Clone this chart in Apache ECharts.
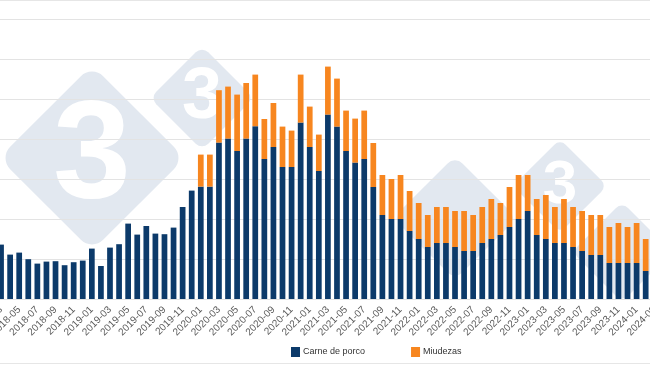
<!DOCTYPE html>
<html>
<head>
<meta charset="utf-8">
<script src="https://cdn.jsdelivr.net/npm/echarts@6/dist/echarts.min.js"></script>
<style>
html,body{margin:0;padding:0;background:#fff;}
#c{width:650px;height:365px;}
</style>
</head>
<body>
<div id="c"></div>
<script>
// Monthly categories (2018-03 .. 2024-03)
var months = [
'2018-03','2018-04','2018-05','2018-06','2018-07','2018-08','2018-09','2018-10','2018-11','2018-12',
'2019-01','2019-02','2019-03','2019-04','2019-05','2019-06','2019-07','2019-08','2019-09','2019-10','2019-11','2019-12',
'2020-01','2020-02','2020-03','2020-04','2020-05','2020-06','2020-07','2020-08','2020-09','2020-10','2020-11','2020-12',
'2021-01','2021-02','2021-03','2021-04','2021-05','2021-06','2021-07','2021-08','2021-09','2021-10','2021-11','2021-12',
'2022-01','2022-02','2022-03','2022-04','2022-05','2022-06','2022-07','2022-08','2022-09','2022-10','2022-11','2022-12',
'2023-01','2023-02','2023-03','2023-04','2023-05','2023-06','2023-07','2023-08','2023-09','2023-10','2023-11','2023-12',
'2024-01','2024-02','2024-03'
];

// Carne de porco (bottom of stack)
var carneDePorco = [
27.2,22.2,23.2,19.9,17.7,18.7,18.9,16.9,18.4,19.2,
25.2,16.5,25.7,27.4,37.7,32.2,36.5,32.7,32.4,35.7,46.0,54.2,
56.2,56.2,78.2,80.2,74.0,80.2,86.4,70.0,76.0,66.0,66.0,88.2,
76.0,64.0,92.2,86.2,74.0,68.2,70.0,56.0,42.0,40.0,40.0,34.0,
30.0,26.0,28.0,28.0,26.0,24.0,24.0,28.0,30.0,32.0,36.0,40.0,
44.0,32.0,30.0,28.0,28.0,26.0,24.0,22.0,22.0,18.0,18.0,18.0,
18.0,14.0,14.0
];

// Miudezas (stacked on top)
var miudezas = [
0,0,0,0,0,0,0,0,0,0,
0,0,0,0,0,0,0,0,0,0,0,0,
16.0,16.0,26.2,26.0,28.2,27.8,25.8,20.0,22.0,20.2,18.2,24.0,
20.2,18.2,24.0,24.0,20.2,22.0,24.2,22.0,20.0,20.0,22.0,20.0,
18.0,16.0,18.0,18.0,18.0,20.0,18.0,18.0,20.0,16.0,20.0,22.0,
18.0,18.0,22.0,18.0,22.0,20.0,20.0,20.0,20.0,18.0,20.0,18.0,
20.0,16.0,16.0
];

var seriesNames = ['Carne de porco', 'Miudezas'];
var colors = ['#0c3a6a', '#f7861f'];

function diamond(cx, cy, half, label, fontSize) {
  var side = half * Math.SQRT2;
  var els = [{
    type: 'rect',
    x: cx, y: cy,
    rotation: Math.PI / 4,
    shape: { x: -side / 2, y: -side / 2, width: side, height: side, r: side * 0.12 },
    style: { fill: '#e2e8f0' },
    z: -10, silent: true
  }];
  if (label) {
    els.push({
      type: 'text',
      x: cx, y: cy,
      style: { text: '3', fill: '#ffffff', font: 'bold ' + fontSize + 'px "Liberation Sans", Arial, sans-serif',
               align: 'center', verticalAlign: 'middle' },
      z: -9, silent: true
    });
  }
  return els;
}

var graphics = [].concat(
  diamond(92, 158, 93, true, 140),
  diamond(202, 98, 52, true, 72),
  diamond(455, 218, 62, false, 0),
  diamond(560, 186, 47, true, 62),
  diamond(622, 252, 50, false, 0),
  [
    { type: 'line', shape: { x1: 0, y1: 0.5, x2: 650, y2: 0.5 }, style: { stroke: '#e6e6e6', lineWidth: 1 }, z: -5, silent: true },
    { type: 'line', shape: { x1: 0, y1: 363.5, x2: 650, y2: 363.5 }, style: { stroke: '#e6e6e6', lineWidth: 1 }, z: -5, silent: true }
  ]
);

var chart = echarts.init(document.getElementById('c'), null, { renderer: 'canvas' });
chart.setOption({
  animation: false,
  backgroundColor: '#ffffff',
  graphic: graphics,
  legend: {
    left: 291, top: 347, padding: 0,
    itemWidth: 9, itemHeight: 10, itemGap: 46,
    icon: 'rect',
    textStyle: { fontSize: 9, color: '#333', fontFamily: '"Liberation Sans", Arial, sans-serif', padding: [0, 0, 0, -2] },
    data: seriesNames
  },
  grid: {
    left: -3.5, right: -9.3, top: 19, bottom: 66,
    containLabel: false,
    outerBoundsMode: 'none'
  },
  xAxis: {
    type: 'category',
    data: months,
    axisLine: { show: true, lineStyle: { color: '#e3e3e3' } },
    axisTick: { show: false },
    axisLabel: {
      interval: 1, rotate: 45, fontSize: 10, color: '#5a5a5a', margin: 9,
      fontFamily: '"Liberation Sans", Arial, sans-serif'
    }
  },
  yAxis: {
    type: 'value', min: 0, max: 140, interval: 20,
    axisLabel: { show: false },
    axisLine: { show: false },
    axisTick: { show: false },
    splitLine: { lineStyle: { color: '#e3e3e3' } }
  },
  series: [
    { name: seriesNames[0], type: 'bar', stack: 'total', data: carneDePorco, barCategoryGap: '37%', itemStyle: { color: colors[0] } },
    { name: seriesNames[1], type: 'bar', stack: 'total', data: miudezas, barCategoryGap: '37%', itemStyle: { color: colors[1] } }
  ]
});
</script>
</body>
</html>
